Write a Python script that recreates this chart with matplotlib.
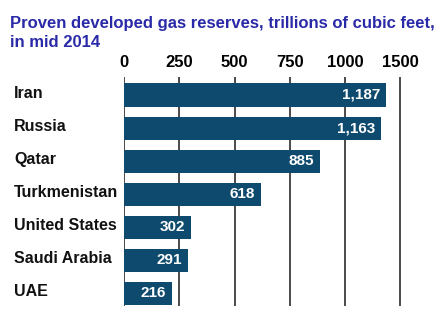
import matplotlib
matplotlib.use("Agg")
import matplotlib.pyplot as plt

countries = ["Iran", "Russia", "Qatar", "Turkmenistan", "United States", "Saudi Arabia", "UAE"]
values = [1187, 1163, 885, 618, 302, 291, 216]
value_labels = ["1,187", "1,163", "885", "618", "302", "291", "216"]
tick_positions = [0, 250, 500, 750, 1000, 1250]
tick_labels = ["0", "250", "500", "750", "1000", "1500"]

W, H = 443, 311
plt.rcParams['font.family'] = ['Liberation Sans', 'DejaVu Sans']
fig = plt.figure(figsize=(W / 100, H / 100), dpi=100)
fig.patch.set_facecolor('white')

px_per_unit = 0.221
x0 = 124
xmax = 1300
top, bottom = 77, 306
ax = fig.add_axes([x0 / W, 1 - bottom / H, xmax * px_per_unit / W, (bottom - top) / H])
ax.set_facecolor('none')

bar_color = '#0e4a6e'
ypos = list(range(len(countries)))
ax.barh(ypos, values, height=0.7, color=bar_color, zorder=3)
for xv in tick_positions:
    ax.axvline(xv, color='#4a4a4a', lw=1.4, zorder=1)

for y, v, lab in zip(ypos, values, value_labels):
    ax.annotate(lab, xy=(v, y), xytext=(-6, 0), textcoords='offset pixels',
                ha='right', va='center', color='white', fontsize=11,
                fontweight='bold', zorder=4)

ax.set_xlim(0, xmax)
ax.set_ylim(len(countries) - 1 + 0.378, -0.544)
ax.xaxis.tick_top()
ax.set_xticks(tick_positions)
ax.set_xticklabels(tick_labels, fontsize=12, fontweight='bold')
ax.tick_params(axis='x', length=0, pad=5)
ax.set_yticks([])
for s in ax.spines.values():
    s.set_visible(False)

for y, c in zip(ypos, countries):
    ax.text(-(x0 - 14) / px_per_unit, y - 0.05, c, ha='left', va='center',
            fontsize=11.5, fontweight='bold', color='#111111', clip_on=False)

fig.text(10 / W, 1 - 16 / H, "Proven developed gas reserves, trillions of cubic feet,\nin mid 2014",
         ha='left', va='top', fontsize=12, fontweight='bold', color='#2a2aa8',
         linespacing=1.3)

fig.savefig("out.png", dpi=100)
